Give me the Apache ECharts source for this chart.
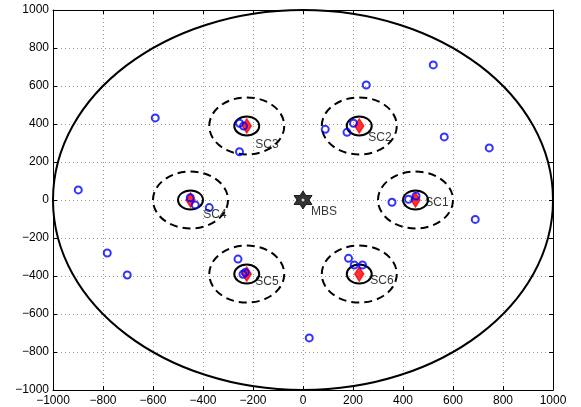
<!DOCTYPE html>
<html><head><meta charset="utf-8">
<script src="https://cdn.jsdelivr.net/npm/echarts@6/dist/echarts.min.js"></script>
<style>html,body{margin:0;padding:0;background:#fff}#c{width:581px;height:407px}</style>
</head><body><div id="c"></div><script>
// Small-cell centres (SC1..SC6) and the macro base station at the origin
const cellNames = ['SC1', 'SC2', 'SC3', 'SC4', 'SC5', 'SC6'];
const cellX = [450, 225, -225, -450, -225, 225];
const cellY = [0, 390, 390, 0, -390, -390];
const mbsX = [0];
const mbsY = [0];

// Radii: macro coverage, small-cell coverage (dashed) and small-cell core (solid)
const macroRadius = 1000;
const coverRadius = 150;
const coreRadius = 50;

// User positions
const userX = [521, 253, -591, -254, 89, 176, 202, 565, 745, -899, 356, 689, 452, 422,
  -451, -431, -375, -783, -703, -254, -238, -260, -240, -231, 182, 205, 238, 25];
const userY = [711, 605, 432, 254, 372, 356, 404, 332, 274, 53, -12, -102, 21, 4,
  12, -26, -40, -279, -395, 404, 389, -311, -391, -381, -307, -342, -342, -726];

// Text anchors for the cell / station names
const labelText = ['SC1', 'SC2', 'SC3', 'SC4', 'SC5', 'SC6', 'MBS'];
const labelX = [489, 261, -191, -399, -191, 269, 32];
const labelY = [-14, 326, 289, -79, -430, -425, -62];

// Axis ticks
const axisMin = -1000, axisMax = 1000, axisStep = 200;

const FONT = 'Liberation Sans, Arial, Helvetica, sans-serif';

function circleItems(xs, ys, r) {
  return xs.map((x, i) => [x, ys[i], r]);
}

function circleRenderer(dash, width) {
  return function (params, api) {
    const c = api.coord([api.value(0), api.value(1)]);
    const s = api.size([api.value(2), api.value(2)]);
    return {
      type: 'ellipse',
      shape: { cx: c[0], cy: c[1], rx: s[0], ry: s[1] },
      style: { fill: null, stroke: '#000', lineWidth: width, lineDash: dash }
    };
  };
}

const fmt = v => String(v).replace('-', '\u2212');

const baseAxis = {
  type: 'value', min: axisMin, max: axisMax, interval: axisStep,
  axisLine: { show: true, onZero: false, lineStyle: { color: '#000', width: 1 } },
  axisTick: { show: true, inside: true, length: 4, lineStyle: { color: '#000' } },
  splitLine: { show: false },
  axisLabel: { show: false }
};

const hexagram = 'path://M0,-10 L2.887,-5 L8.66,-5 L5.774,0 L8.66,5 L2.887,5 L0,10 L-2.887,5 L-8.66,5 L-5.774,0 L-8.66,-5 L-2.887,-5 Z';

const chart = echarts.init(document.getElementById('c'), null, { renderer: 'canvas' });
chart.setOption({
  animation: false,
  backgroundColor: '#fff',
  grid: { left: 53, right: 28, top: 10, bottom: 17, containLabel: false },
  xAxis: [
    Object.assign({}, baseAxis, {
      position: 'bottom',
      splitLine: { show: true, lineStyle: { color: '#999', width: 1, type: [1, 3] } },
      axisLabel: { show: true, color: '#000', fontSize: 12, fontFamily: FONT, margin: 5, formatter: fmt }
    }),
    Object.assign({}, baseAxis, { position: 'top' })
  ],
  yAxis: [
    Object.assign({}, baseAxis, {
      position: 'left',
      splitLine: { show: true, lineStyle: { color: '#999', width: 1, type: [1, 3] } },
      axisLabel: { show: true, color: '#000', fontSize: 12, fontFamily: FONT, margin: 4, formatter: fmt }
    }),
    Object.assign({}, baseAxis, { position: 'right' })
  ],
  series: [
    {
      type: 'custom', clip: false,
      data: circleItems(mbsX, mbsY, macroRadius),
      renderItem: circleRenderer(null, 2), z: 2
    },
    {
      type: 'custom', clip: false,
      data: circleItems(cellX, cellY, coverRadius),
      renderItem: circleRenderer([8, 5], 2), z: 2
    },
    {
      type: 'custom', clip: false,
      data: circleItems(cellX, cellY, coreRadius),
      renderItem: circleRenderer(null, 2), z: 2
    },
    {
      // macro base station: solid hexagram with a small light centre
      type: 'scatter', z: 3,
      data: mbsX.map((x, i) => [x, mbsY[i]]),
      symbol: hexagram, symbolSize: 18,
      itemStyle: { color: '#000', borderColor: '#000', borderWidth: 1 }
    },
    {
      type: 'scatter', z: 3.5,
      data: mbsX.map((x, i) => [x, mbsY[i]]),
      symbol: 'circle', symbolSize: 3,
      itemStyle: { color: '#fff' }
    },
    {
      type: 'scatter', z: 4,
      data: cellX.map((x, i) => [x, cellY[i]]),
      symbol: 'diamond', symbolSize: [9, 14],
      itemStyle: { color: '#ff0000', borderColor: '#ff0000', borderWidth: 1.5 }
    },
    {
      type: 'scatter', z: 5,
      data: userX.map((x, i) => [x, userY[i]]),
      symbol: 'circle', symbolSize: 7,
      itemStyle: { color: 'rgba(0,0,0,0)', borderColor: '#0000ff', borderWidth: 2 }
    },
    {
      type: 'scatter', z: 6,
      data: labelX.map((x, i) => ({ value: [x, labelY[i]], name: labelText[i] })),
      symbolSize: 0, silent: true,
      label: {
        show: true, position: 'right', distance: 0,
        formatter: p => p.name,
        color: '#000', fontSize: 12, fontFamily: FONT
      }
    }
  ]
});
</script></body></html>
